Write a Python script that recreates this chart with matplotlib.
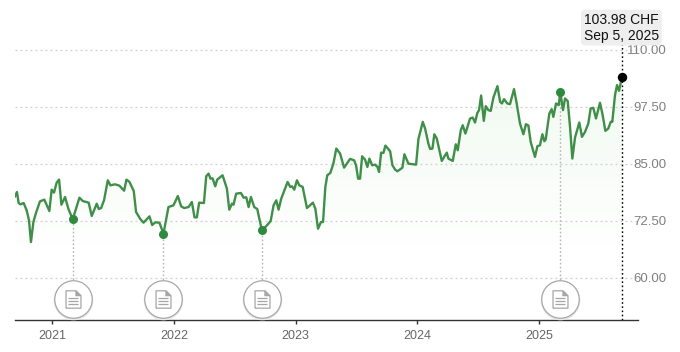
import matplotlib
matplotlib.use("Agg")
import numpy as np
import matplotlib.pyplot as plt
from matplotlib.path import Path

plt.rcParams['font.family'] = ['Liberation Sans', 'DejaVu Sans']

# dates as decimal years, prices in CHF
dates = [
    2020.696, 2020.712, 2020.726, 2020.742, 2020.767, 2020.792, 2020.811, 2020.827, 2020.847, 2020.868,
    2020.901, 2020.937, 2020.978, 2020.997, 2021.016, 2021.038, 2021.058, 2021.077, 2021.107, 2021.134,
    2021.170, 2021.225, 2021.252, 2021.301, 2021.326, 2021.367, 2021.384, 2021.403, 2021.427, 2021.458,
    2021.479, 2021.518, 2021.553, 2021.592, 2021.611, 2021.636, 2021.671, 2021.690, 2021.723, 2021.751,
    2021.800, 2021.822, 2021.847, 2021.882, 2021.915, 2021.956, 2021.997, 2022.033, 2022.060, 2022.085,
    2022.121, 2022.148, 2022.170, 2022.189, 2022.208, 2022.247, 2022.266, 2022.285, 2022.301, 2022.318,
    2022.340, 2022.356, 2022.400, 2022.436, 2022.455, 2022.477, 2022.490, 2022.512, 2022.551, 2022.573,
    2022.595, 2022.614, 2022.633, 2022.660, 2022.685, 2022.723, 2022.764, 2022.795, 2022.819, 2022.841,
    2022.860, 2022.882, 2022.934, 2022.956, 2022.970, 2022.989, 2023.011, 2023.030, 2023.058, 2023.093,
    2023.142, 2023.162, 2023.184, 2023.208, 2023.225, 2023.244, 2023.260, 2023.285, 2023.310, 2023.334,
    2023.365, 2023.398, 2023.447, 2023.480, 2023.496, 2023.513, 2023.529, 2023.546, 2023.570, 2023.589,
    2023.606, 2023.628, 2023.652, 2023.672, 2023.685, 2023.702, 2023.721, 2023.737, 2023.776, 2023.795,
    2023.817, 2023.836, 2023.877, 2023.893, 2023.926, 2023.989, 2024.008, 2024.044, 2024.063, 2024.090,
    2024.104, 2024.123, 2024.139, 2024.159, 2024.200, 2024.241, 2024.254, 2024.290, 2024.315, 2024.331,
    2024.356, 2024.372, 2024.394, 2024.432, 2024.454, 2024.473, 2024.492, 2024.506, 2024.523, 2024.545,
    2024.561, 2024.583, 2024.602, 2024.624, 2024.657, 2024.679, 2024.694, 2024.711, 2024.738, 2024.760,
    2024.793, 2024.815, 2024.842, 2024.870, 2024.891, 2024.911, 2024.930, 2024.965, 2024.985, 2025.006,
    2025.026, 2025.042, 2025.053, 2025.083, 2025.102, 2025.116, 2025.138, 2025.160, 2025.173, 2025.195,
    2025.212, 2025.234, 2025.253, 2025.272, 2025.294, 2025.329, 2025.351, 2025.376, 2025.403, 2025.422,
    2025.444, 2025.466, 2025.499, 2025.521, 2025.543, 2025.567, 2025.587, 2025.600, 2025.622, 2025.639,
    2025.655, 2025.680,
]
prices = [
    77.87, 78.82, 76.41, 76.12, 76.41, 74.80, 72.61, 67.86, 72.24, 74.22,
    76.78, 77.14, 74.66, 79.33, 78.68, 80.87, 81.53, 76.04, 77.73, 75.17,
    72.83, 77.58, 76.85, 76.48, 73.56, 76.26, 75.09, 75.31, 77.00, 81.38,
    80.28, 80.50, 80.21, 79.11, 81.53, 81.02, 79.04, 74.44, 72.97, 72.10,
    73.49, 71.59, 72.17, 72.10, 69.69, 75.53, 75.90, 77.95, 75.68, 75.31,
    75.53, 76.63, 73.27, 73.27, 76.48, 76.41, 82.26, 82.84, 81.75, 81.82,
    80.07, 81.53, 82.48, 79.55, 74.95, 76.26, 76.04, 78.46, 78.60, 77.58,
    77.65, 75.53, 77.73, 75.53, 75.09, 70.42, 71.51, 72.46, 75.90, 77.00,
    74.95, 77.36, 81.02, 79.92, 80.07, 79.33, 81.38, 80.28, 79.92, 75.31,
    76.48, 75.17, 70.78, 72.24, 72.24, 79.92, 82.48, 82.99, 85.04, 88.33,
    87.24, 84.15, 86.06, 85.76, 84.67, 81.74, 81.74, 86.64, 85.91, 84.30,
    86.13, 84.67, 84.81, 84.30, 83.20, 87.44, 87.37, 88.98, 87.74, 84.67,
    83.72, 83.35, 84.15, 87.08, 85.03, 84.81, 90.37, 94.17, 92.71, 89.42,
    88.25, 88.32, 91.46, 90.51, 85.62, 87.44, 86.13, 85.62, 89.27, 87.96,
    92.34, 93.44, 91.61, 94.90, 95.12, 94.02, 96.14, 96.73, 99.94, 94.39,
    97.61, 96.73, 96.58, 99.51, 101.99, 98.56, 98.20, 99.15, 98.20, 98.05,
    101.34, 98.20, 93.81, 91.47, 93.66, 93.37, 89.79, 86.50, 88.84, 89.06,
    91.47, 89.94, 90.30, 96.00, 96.95, 95.27, 98.20, 97.83, 100.76, 96.74,
    99.29, 98.71, 93.08, 86.14, 90.74, 94.03, 90.89, 91.98, 93.81, 97.10,
    97.25, 94.91, 98.34, 95.64, 92.20, 92.71, 94.18, 94.18, 100.02, 102.22,
    100.97, 103.98,
]

event_dates = [2021.170, 2021.915, 2022.723, 2025.173]
event_prices = [72.83, 69.69, 70.42, 100.76]

year_ticks = [2021, 2022, 2023, 2024, 2025]
price_ticks = [60, 72.5, 85, 97.5, 110]
price_labels = ['60.00', '72.50', '85.00', '97.50', '110.00']

last_label = '103.98 CHF\nSep 5, 2025'

GREEN = '#3f8f49'
DOT = '#2f8a3f'
GREY = '#808080'
ICON = '#a6a6a6'

fig = plt.figure(figsize=(6.8, 3.52), dpi=100)
ax = fig.add_axes([15 / 680, 1 - 320 / 352, (638 - 15) / 680, 310 / 352])
ax.set_xlim(2020.696, 2025.811)
ax.set_ylim(50.8, 118.66)

# soft gradient under the line
poly = ax.fill_between(dates, prices, 50.8, color='none')
grad = np.zeros((256, 2, 4))
grad[..., 0] = 0.30
grad[..., 1] = 0.72
grad[..., 2] = 0.30
grad[..., 3] = np.linspace(0.08, 0, 256)[:, None]
im = ax.imshow(grad, extent=[2020.696, 2025.811, 65, 103], aspect='auto', origin='upper', zorder=1)
im.set_clip_path(poly.get_paths()[0], transform=ax.transData)
ax.set_xlim(2020.696, 2025.811)
ax.set_ylim(50.8, 118.66)

ax.set_yticks(price_ticks)
ax.set_yticklabels(price_labels)
ax.yaxis.tick_right()
ax.tick_params(axis='y', length=0, pad=20.5, labelsize=9.5, labelcolor=GREY)
for lab in ax.get_yticklabels():
    lab.set_ha('right')
ax.set_xticks(year_ticks)
ax.set_xticklabels([str(y) for y in year_ticks])
ax.tick_params(axis='x', length=3, width=1, color='#333333', pad=4, labelsize=9, labelcolor='#666666')
ax.grid(axis='y', color='#cfcfcf', lw=0.9, ls=(0, (1.5, 2.5)), zorder=0)
for side in ['top', 'left', 'right']:
    ax.spines[side].set_visible(False)
ax.spines['bottom'].set_color('#333333')
ax.spines['bottom'].set_linewidth(1)

# report stems, circles and document icons
icon_y = 55.4
ax.vlines(event_dates, icon_y, event_prices, color='#b5b5b5', lw=1, ls=(0, (1.2, 1.6)), zorder=2)
ax.plot(event_dates, [icon_y - 0.15] * 4, 'o', ms=28.5, mfc='#e8e8e8', mec='none', zorder=3)
ax.plot(event_dates, [icon_y] * 4, 'o', ms=27, mfc='white', mec='#a8a8a8', mew=0.9, zorder=4)

# every icon path reaches 0.5 so that the markers scale alike
doc = Path([(-0.43, -0.5), (-0.43, 0.5), (0.15, 0.5), (0.43, 0.22), (0.43, -0.5), (-0.43, -0.5)])
fold = Path([(0.12, 0.5), (0.43, 0.2), (0.12, 0.2), (0.12, 0.5)])
rows = Path([(0, 0.5), (0, 0.5), (-0.27, 0.08), (0.27, 0.08), (-0.27, -0.1), (0.27, -0.1), (-0.27, -0.28), (0.27, -0.28)],
            [Path.MOVETO, Path.LINETO, Path.MOVETO, Path.LINETO, Path.MOVETO, Path.LINETO, Path.MOVETO, Path.LINETO])
ax.plot(event_dates, [icon_y] * 4, ls='none', marker=doc, ms=12.5, mfc='white', mec=ICON, mew=0.9, zorder=5)
ax.plot(event_dates, [icon_y] * 4, ls='none', marker=fold, ms=12.5, mfc=ICON, mec=ICON, mew=0.3, zorder=5)
ax.plot(event_dates, [icon_y] * 4, ls='none', marker=rows, ms=12.5, mfc='none', mec=ICON, mew=0.9, zorder=5)

ax.plot(dates, prices, color=GREEN, lw=1.7, solid_joinstyle='round', zorder=6)
ax.plot(event_dates, event_prices, 'o', ms=6.5, color=DOT, mec='none', zorder=7)

# last value with its label
ax.vlines(dates[-1], 50.8, 112, color='black', lw=1, ls=(0, (1.2, 1.8)), zorder=6)
ax.plot(dates[-1], prices[-1], 'o', ms=6.8, color='black', mec='none', zorder=8)
ax.annotate(last_label, (dates[-1], 111.5), xytext=(-0.5, 0), textcoords='offset points',
            ha='center', va='bottom', fontsize=10, color='#111111', linespacing=1.2, zorder=9,
            bbox=dict(boxstyle='round,pad=0.2,rounding_size=0.3', fc='#eeeeee', ec='none'),
            annotation_clip=False)

fig.savefig('out.png', dpi=100)
